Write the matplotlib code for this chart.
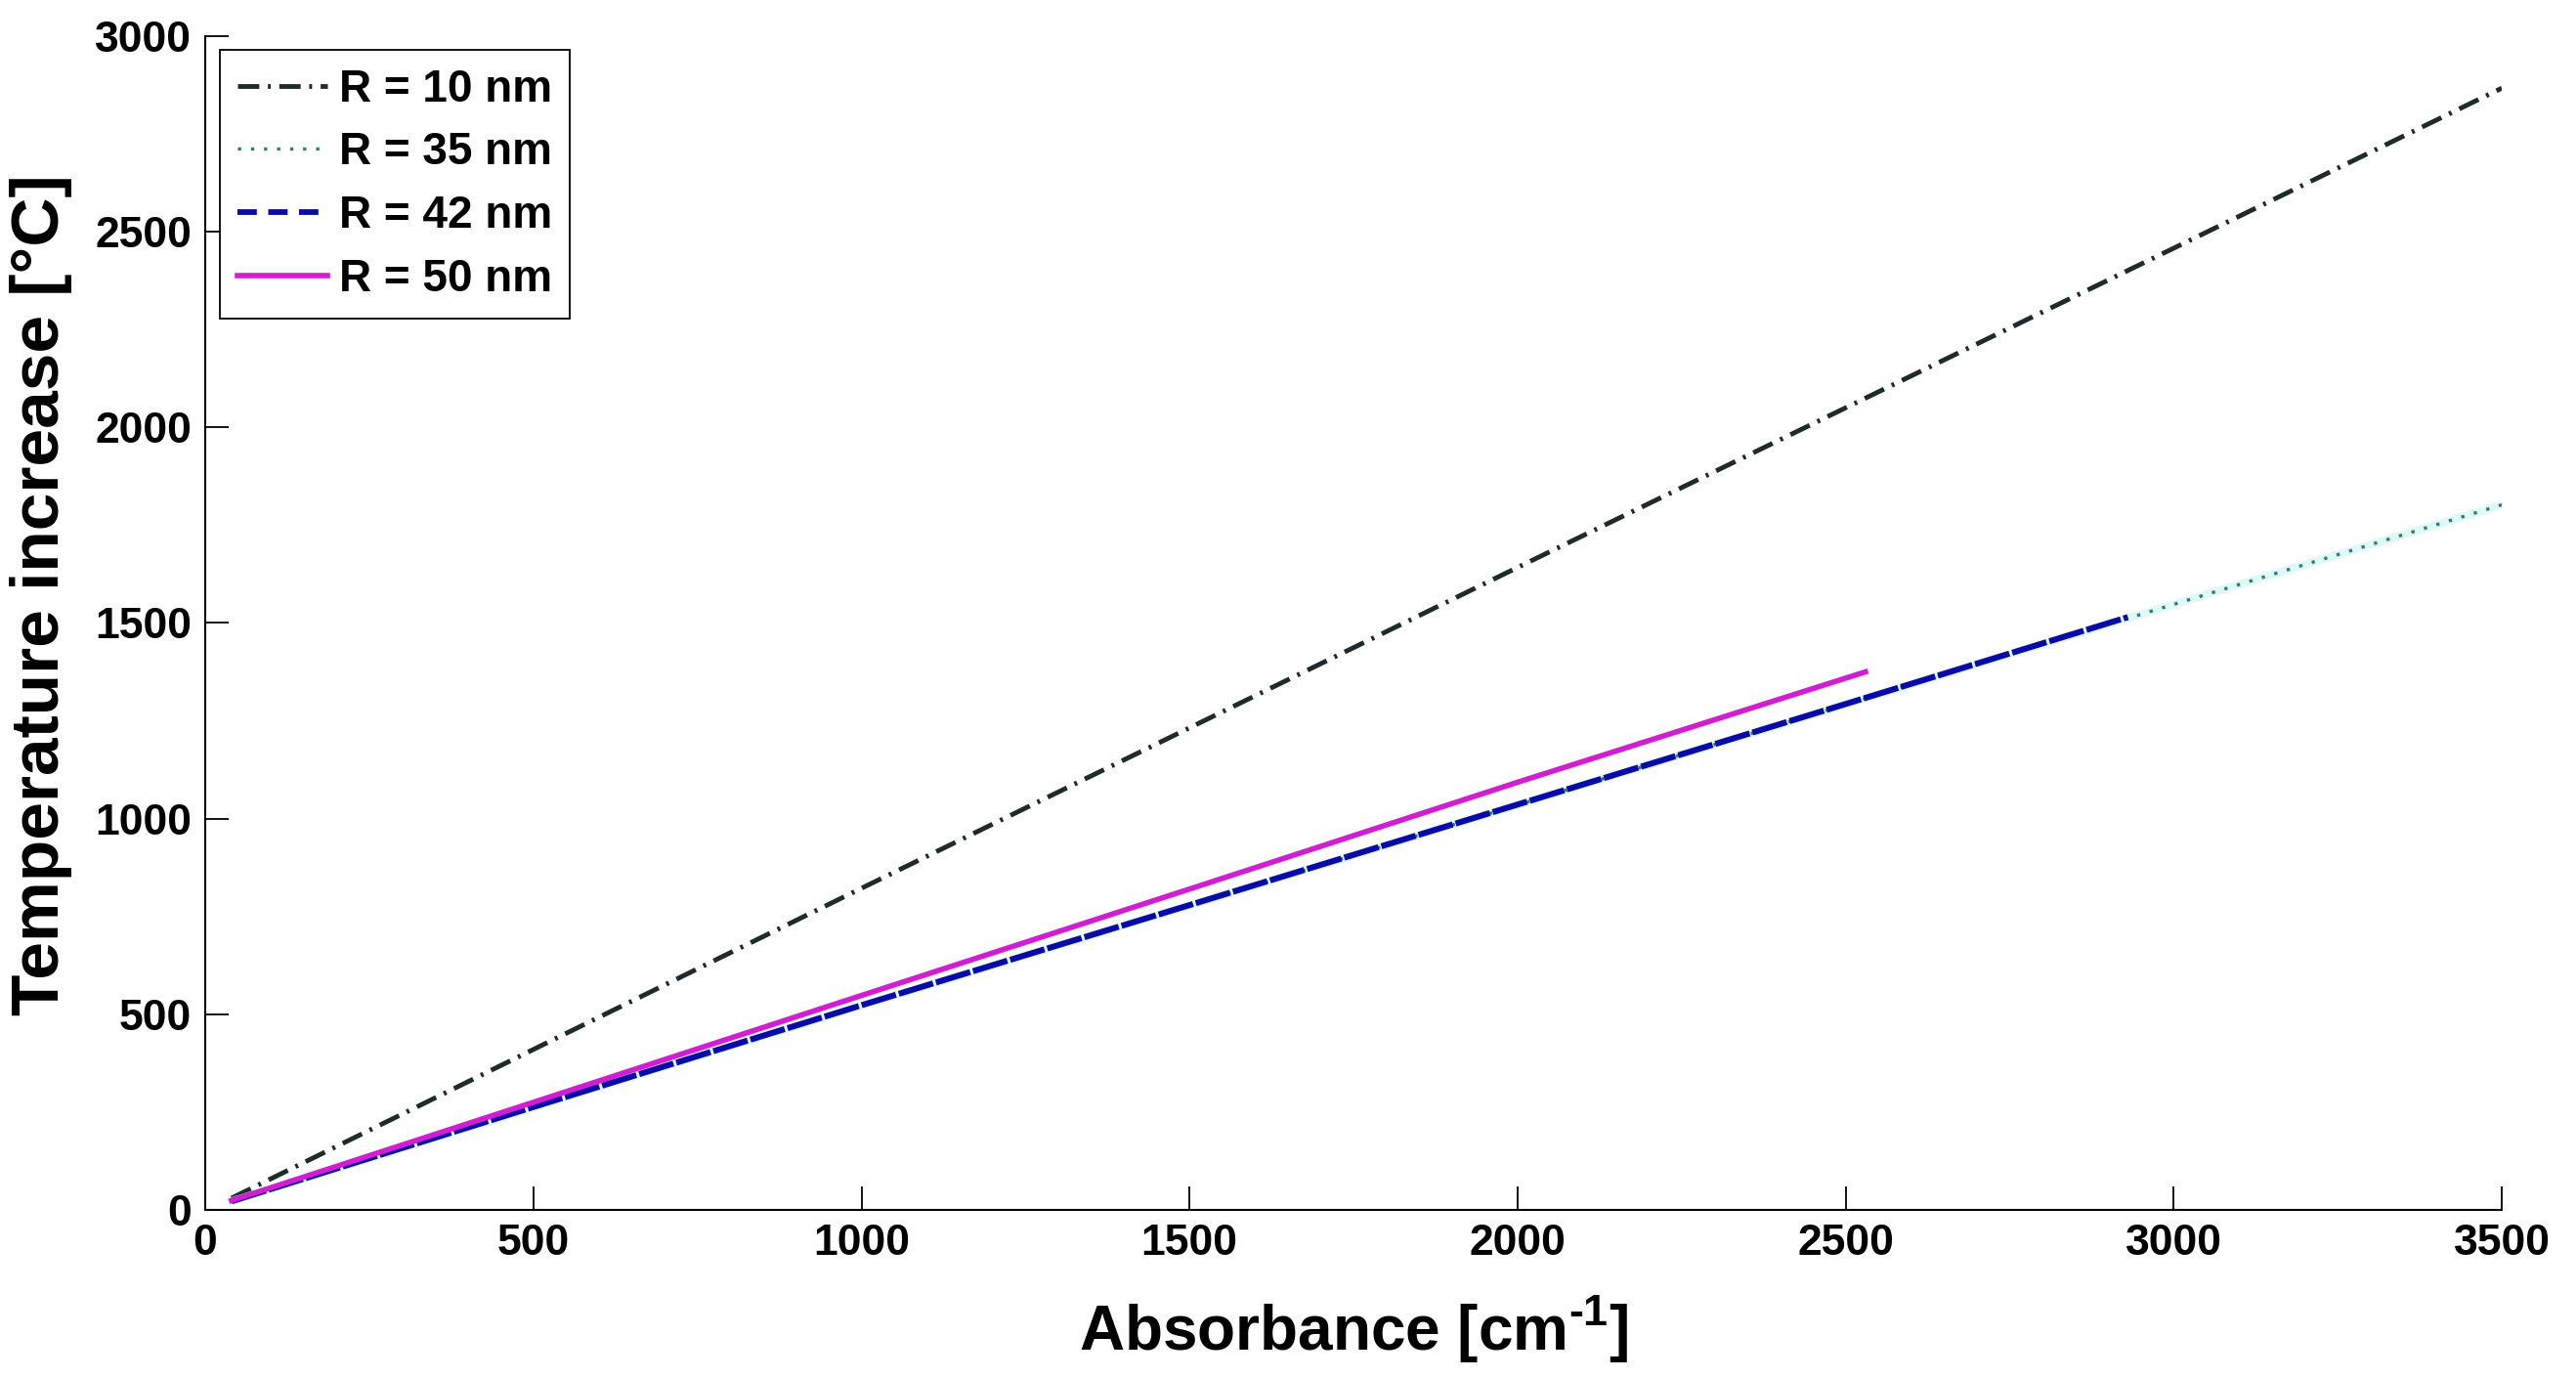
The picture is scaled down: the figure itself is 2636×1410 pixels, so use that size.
import matplotlib
matplotlib.use("Agg")
import matplotlib.pyplot as plt
from matplotlib.lines import Line2D

plt.rcParams['font.family'] = ['Liberation Sans', 'DejaVu Sans']
plt.rcParams['font.weight'] = 'bold'
plt.rcParams['mathtext.fontset'] = 'custom'
plt.rcParams['mathtext.bf'] = 'Liberation Sans:bold'
plt.rcParams['mathtext.rm'] = 'Liberation Sans:bold'

# data
x_r10 = [40, 500, 1000, 1500, 2000, 2500, 3000, 3500]
y_r10 = [30, 410, 822, 1232, 1642, 2050, 2458, 2867]

x_r35 = [40, 500, 1000, 1500, 2000, 2500, 2930, 3500]
y_r35 = [22, 262, 522, 778, 1035, 1292, 1512, 1802]

x_r42 = [40, 500, 1000, 1500, 2000, 2500, 2930]
y_r42 = [22, 263, 523, 779, 1036, 1293, 1515]

x_r50 = [40, 500, 1000, 1500, 2000, 2530]
y_r50 = [24, 275, 548, 820, 1093, 1375]

labels = ['R = 10 nm', 'R = 35 nm', 'R = 42 nm', 'R = 50 nm']
xticks = [0, 500, 1000, 1500, 2000, 2500, 3000, 3500]
yticks = [0, 500, 1000, 1500, 2000, 2500, 3000]

c10, c35, c42, c50 = '#1e2b2b', '#2f7f6f', '#0a0aa8', '#d21ed2'
ls10 = (0, (4.5, 1.8, 0.6, 1.8))
ls35 = (0, (1.0, 3.0))

fig = plt.figure(figsize=(26.36, 14.10), dpi=100)
ax = fig.add_axes([0.0797, 0.122, 0.8915, 0.8518])

ax.plot(x_r10, y_r10, color=c10, lw=3.5, linestyle=ls10)
# faint halo under the dotted line
ax.plot(x_r35, y_r35, color='#c8f6f2', lw=6, alpha=0.6)
ax.plot(x_r35, y_r35, color=c35, lw=2.4, linestyle=ls35)
ax.plot(x_r42, y_r42, color=c42, lw=4.4, linestyle=(0, (6, 0.5)))
ax.plot(x_r50, y_r50, color=c50, lw=4.0)

ax.set_xlim(0, 3500)
ax.set_ylim(0, 3000)
ax.set_xticks(xticks)
ax.set_yticks(yticks)
ax.tick_params(direction='in', length=17, width=1.3, labelsize=32, pad=10)
for lab in ax.get_xticklabels() + ax.get_yticklabels():
    lab.set_fontweight('bold')

ax.spines['top'].set_visible(False)
ax.spines['right'].set_visible(False)
ax.spines['left'].set_linewidth(1.5)
ax.spines['bottom'].set_linewidth(1.5)

ax.set_xlabel('Absorbance [cm$^{\\mathbf{\u2010}\\mathbf{1}}$]', fontsize=46, fontweight='bold', labelpad=22)
ax.set_ylabel('Temperature increase [\u00b0C]', fontsize=50, fontweight='bold')
ax.yaxis.set_label_coords(-0.058, 0.524)

handles = [
    Line2D([], [], color=c10, lw=3.5, linestyle=ls10),
    Line2D([], [], color=c35, lw=2.4, linestyle=ls35),
    Line2D([], [], color=c42, lw=4.2, linestyle=(0, (3.4, 2.0))),
    Line2D([], [], color=c50, lw=4.0),
]
leg = ax.legend(handles, labels, loc='upper left', bbox_to_anchor=(0.0064, 0.988),
                borderaxespad=0, handlelength=2.0, handletextpad=0.25,
                labelspacing=0.45, borderpad=0.4, fancybox=False, framealpha=1,
                edgecolor='black', prop={'weight': 'bold', 'size': 33})
leg.get_frame().set_linewidth(1.3)

fig.savefig('out.png', dpi=100)
